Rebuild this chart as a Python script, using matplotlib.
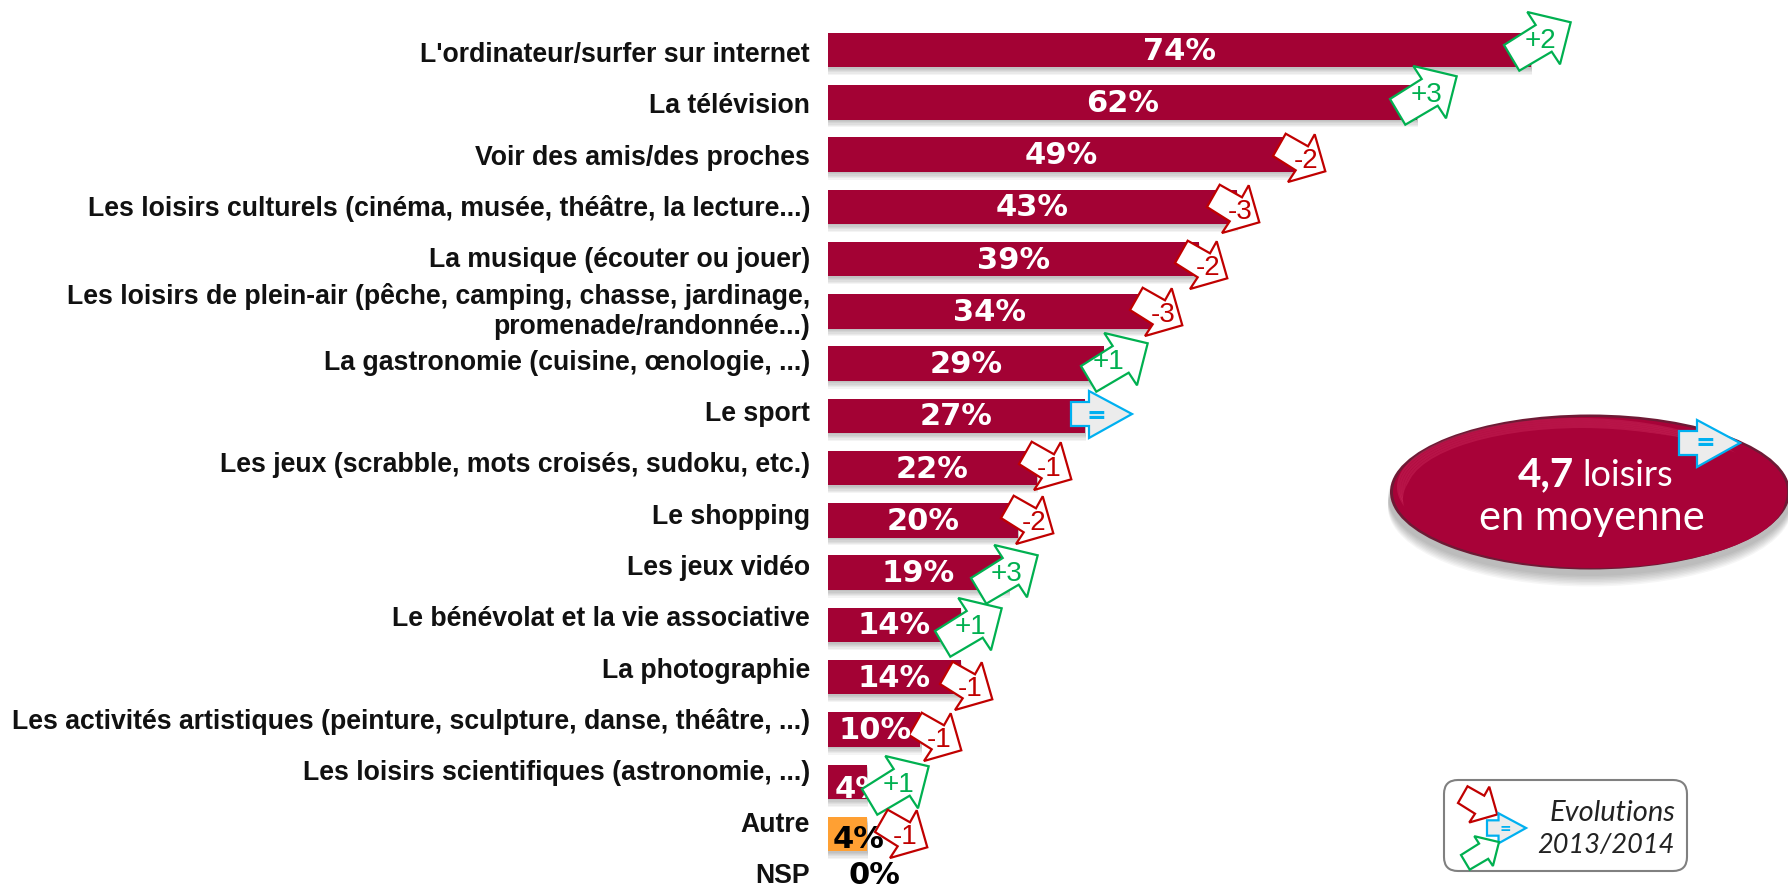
import numpy as np
import matplotlib
matplotlib.use('Agg')
import matplotlib.pyplot as plt
from matplotlib.patches import Polygon, Ellipse, FancyBboxPatch

# Chart data
categories = [
    "L'ordinateur/surfer sur internet",
    "La télévision",
    "Voir des amis/des proches",
    "Les loisirs culturels (cinéma, musée, théâtre, la lecture...)",
    "La musique (écouter ou jouer)",
    "Les loisirs de plein-air (pêche, camping, chasse, jardinage,\npromenade/randonnée...)",
    "La gastronomie (cuisine, œnologie, ...)",
    "Le sport",
    "Les jeux (scrabble, mots croisés, sudoku, etc.)",
    "Le shopping",
    "Les jeux vidéo",
    "Le bénévolat et la vie associative",
    "La photographie",
    "Les activités artistiques (peinture, sculpture, danse, théâtre, ...)",
    "Les loisirs scientifiques (astronomie, ...)",
    "Autre",
    "NSP",
]
percent_labels = [74, 62, 49, 43, 39, 34, 29, 27, 22, 20, 19, 14, 14, 10, 4, 4, 0]
# bar lengths as drawn, the small ones differ a little from the printed numbers
bar_values = [74, 62, 49, 43, 39, 34, 29, 27, 22, 20, 19, 14, 14, 9.7, 4.1, 4.1, 0]
evolutions = ['+2', '+3', '-2', '-3', '-2', '-3', '+1', '=', '-1', '-2', '+3', '+1', '-1', '-1', '+1', '-1']

# Where each evolution arrow sits, in picture pixels
arrow_x = [1504, 1390, 1273, 1207, 1175, 1130, 1081, 1071, 1019, 1001, 971, 935, 940, 909, 862, 875]
arrow_y = [45, 99, 156, 207, 263, 310, 366, 414, 464, 518, 578, 631, 684, 735, 789, 832]

W, H = 1788, 886
BAR_LEFT = 828
PX_PER_PCT = 9.5
ROW0 = 50
ROW_PITCH = 52.27

WINE = '#A30234'
ORANGE = '#FFA033'
RED = '#C00000'
GREEN = '#00B050'
BLUE = '#00B0F0'

GREEN_SHAPE = np.array([(23.3, -33), (66.7, -22.7), (56, 19.3), (47.7, 6.7), (15.3, 25.7), (0, 0), (31.7, -20)])
RED_SHAPE = np.array([(12.7, -22.3), (35, -9.7), (41.7, -21.7), (52.3, 15.3), (15, 26), (22.7, 14.3), (0, 0)])
BLUE_SHAPE = np.array([(0, -12), (18, -12), (18, -23), (61, 0), (18, 24), (18, 12), (0, 12)])

fig = plt.figure(figsize=(W / 100, H / 100), dpi=100)

# Bars live in data units: percent along x, row number along y
ax = fig.add_axes([0, 0, 1, 1])
ax.set_xlim(-BAR_LEFT / PX_PER_PCT, (W - BAR_LEFT) / PX_PER_PCT)
ax.set_ylim((H - ROW0) / ROW_PITCH, -ROW0 / ROW_PITCH)
ax.axis('off')

rows = np.arange(len(categories))
values = np.array(bar_values, dtype=float)
colors = [WINE] * 15 + [ORANGE, ORANGE]
drawn = values > 0
for k in range(1, 7):
    ax.barh(rows[drawn] + k * 1.3 / ROW_PITCH, values[drawn] + 0.15, height=0.66, color='black', alpha=0.045,
            linewidth=0, zorder=1)
ax.barh(rows, values, height=0.66, color=colors, linewidth=0, zorder=2)

# Everything else is placed in picture pixels on a second axes
ov = fig.add_axes([0, 0, 1, 1])
ov.set_xlim(0, W)
ov.set_ylim(H, 0)
ov.axis('off')
ov.patch.set_alpha(0)


def draw_arrow(x, y, kind, scale=1.0, z=6):
    shape = {'+': GREEN_SHAPE, '-': RED_SHAPE, '=': BLUE_SHAPE}[kind]
    edge = {'+': GREEN, '-': RED, '=': BLUE}[kind]
    face = '#ECECEC' if kind == '=' else 'white'
    ov.add_patch(Polygon(shape * scale + [x, y], closed=True, facecolor=face, edgecolor=edge,
                         linewidth=1.6, joinstyle='miter', zorder=z))


for i, cat in enumerate(categories):
    ov.text(810, 55 + 51.3 * i, cat, ha='right', va='center', fontsize=19.2, fontweight='bold',
            family='Liberation Sans', color='#111111', linespacing=1.2, zorder=3)

for i, lab in enumerate(percent_labels):
    if i < 14:
        lx, ly, col, z = BAR_LEFT + lab * PX_PER_PCT / 2, ROW0 + ROW_PITCH * i + 1, 'white', 4
        if i == 13:
            z = 8
    elif i == 14:
        lx, ly, col, z = 861, 789, 'white', 4
    elif i == 15:
        lx, ly, col, z = 859, 840, 'black', 8
    else:
        lx, ly, col, z = 874, 875, 'black', 8
    ov.text(lx, ly, f'{lab}%', ha='center', va='center', fontsize=22, fontweight='bold',
            family='DejaVu Sans', color=col, zorder=z)

for i, (x, y, ev) in enumerate(zip(arrow_x, arrow_y, evolutions)):
    draw_arrow(x, y, ev[0])
    if ev == '=':
        ov.text(x + 25, y + 2, '=', ha='center', va='center', fontsize=17, fontweight='bold',
                family='DejaVu Sans', color=BLUE, zorder=7)
    elif ev[0] == '+':
        dx = 28 if i == 6 else 36
        ov.text(x + dx, y - 4, ev, ha='center', va='center', fontsize=20, family='Liberation Sans',
                color=GREEN, zorder=7)
    else:
        dx = 30 if ev == '-1' else 33
        ov.text(x + dx, y + 5, ev, ha='center', va='center', fontsize=20, family='Liberation Sans',
                color=RED, zorder=7)

# Average badge
for k in range(8):
    ov.add_patch(Ellipse((1590, 497 + k * 1.5), 404, 158, facecolor='black', alpha=0.035, linewidth=0, zorder=2))
ov.add_patch(Ellipse((1590, 492), 400, 155, facecolor='#6E1A35', linewidth=0, zorder=3))
ov.add_patch(Ellipse((1590, 492), 394, 150, facecolor='#A80238', linewidth=0, zorder=3))
# soft highlight along the upper left rim
for k in range(5):
    ov.add_patch(Ellipse((1578 + k, 487 + k), 360 - k * 2, 136 - k * 2, facecolor='none', edgecolor='#E0406F',
                         linewidth=1.5, alpha=0.28, zorder=3))
ov.add_patch(Ellipse((1594, 499), 382, 138, facecolor='#A80238', linewidth=0, zorder=3))
ov.text(1518, 475, '4,7', ha='left', va='center', fontsize=29, fontweight='bold', family='Lato', color='white', zorder=5)
ov.text(1582, 475, 'loisirs', ha='left', va='center', fontsize=26, family='Lato', color='white', zorder=5)
ov.text(1592, 518, 'en moyenne', ha='center', va='center', fontsize=30, family='Lato', color='white', zorder=5)
draw_arrow(1679, 443, '=')
ov.text(1705, 443, '=', ha='center', va='center', fontsize=17, fontweight='bold', family='DejaVu Sans',
        color=BLUE, zorder=7)

# Legend box
ov.add_patch(FancyBboxPatch((1456, 792), 219, 67, boxstyle='round,pad=12,rounding_size=14', facecolor='white',
                            edgecolor='#808080', linewidth=1.5, zorder=2))
draw_arrow(1458, 803, '-', scale=0.75, z=3)
draw_arrow(1487, 828, '=', scale=0.64, z=4)
draw_arrow(1461, 855, '+', scale=0.57, z=5)
ov.text(1505, 829, '=', ha='center', va='center', fontsize=10, fontweight='bold', family='DejaVu Sans',
        color=BLUE, zorder=6)
ov.text(1675, 813, 'Evolutions', ha='right', va='center', fontsize=21, style='italic', family='Lato',
        color='#222222', zorder=5)
ov.text(1675, 846, '2013/2014', ha='right', va='center', fontsize=19.5, style='italic', family='Lato',
        color='#222222', zorder=5)

fig.savefig('out.png', dpi=100)
